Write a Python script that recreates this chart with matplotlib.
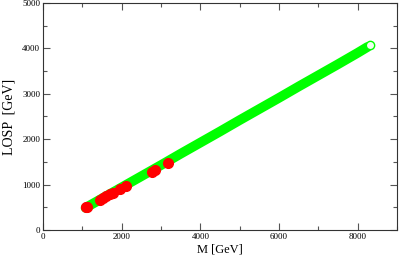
import matplotlib
matplotlib.use("Agg")
import matplotlib.pyplot as plt
from matplotlib.ticker import MultipleLocator

# Data
green_m = [1080, 1500, 2000, 2500, 3000, 3500, 4000, 4500, 5000, 5500,
           6000, 6500, 7000, 7500, 8000, 8250]
green_losp = [490, 695, 940, 1185, 1430, 1680, 1925, 2170, 2420, 2665,
              2910, 3160, 3405, 3650, 3900, 4030]
green_end_m = [8320]
green_end_losp = [4070]

red_m = [1100, 1125, 1440, 1530, 1610, 1700, 1780, 1950, 2100, 2775, 2835, 3175]
red_losp = [500, 515, 660, 700, 750, 790, 825, 895, 970, 1285, 1320, 1480]

plt.rcParams['font.family'] = ['Liberation Serif', 'DejaVu Serif']

fig = plt.figure(figsize=(3.99, 2.62), dpi=100)
ax = fig.add_axes([0.108, 0.122, 0.887, 0.867])

ax.plot(green_m, green_losp, color="#00ff00", linewidth=7,
        solid_capstyle="round", zorder=2)
ax.plot(green_end_m, green_end_losp, linestyle="none", marker="o",
        markersize=6, markerfacecolor="#f0fff0", markeredgecolor="#00ff00",
        markeredgewidth=1.0, zorder=2)
ax.plot(red_m, red_losp, linestyle="none", marker="o", markersize=7,
        color="#ff0000", zorder=3)

ax.set_xlim(0, 9000)
ax.set_ylim(0, 5000)
ax.xaxis.set_major_locator(MultipleLocator(2000))
ax.xaxis.set_minor_locator(MultipleLocator(1000))
ax.yaxis.set_major_locator(MultipleLocator(1000))
ax.yaxis.set_minor_locator(MultipleLocator(500))
ax.tick_params(which="both", direction="in", top=True, right=True,
               labelsize=6.5, color="#555555", pad=2)
ax.tick_params(which="major", length=5, width=0.8)
ax.tick_params(which="minor", length=3, width=0.8)
for s in ax.spines.values():
    s.set_linewidth(0.8)
    s.set_color("#333333")

ax.set_xlabel("M [GeV]", fontsize=9, labelpad=2)
ax.set_ylabel("LOSP  [GeV]", fontsize=10, labelpad=5)

fig.savefig("out.png", dpi=100)
